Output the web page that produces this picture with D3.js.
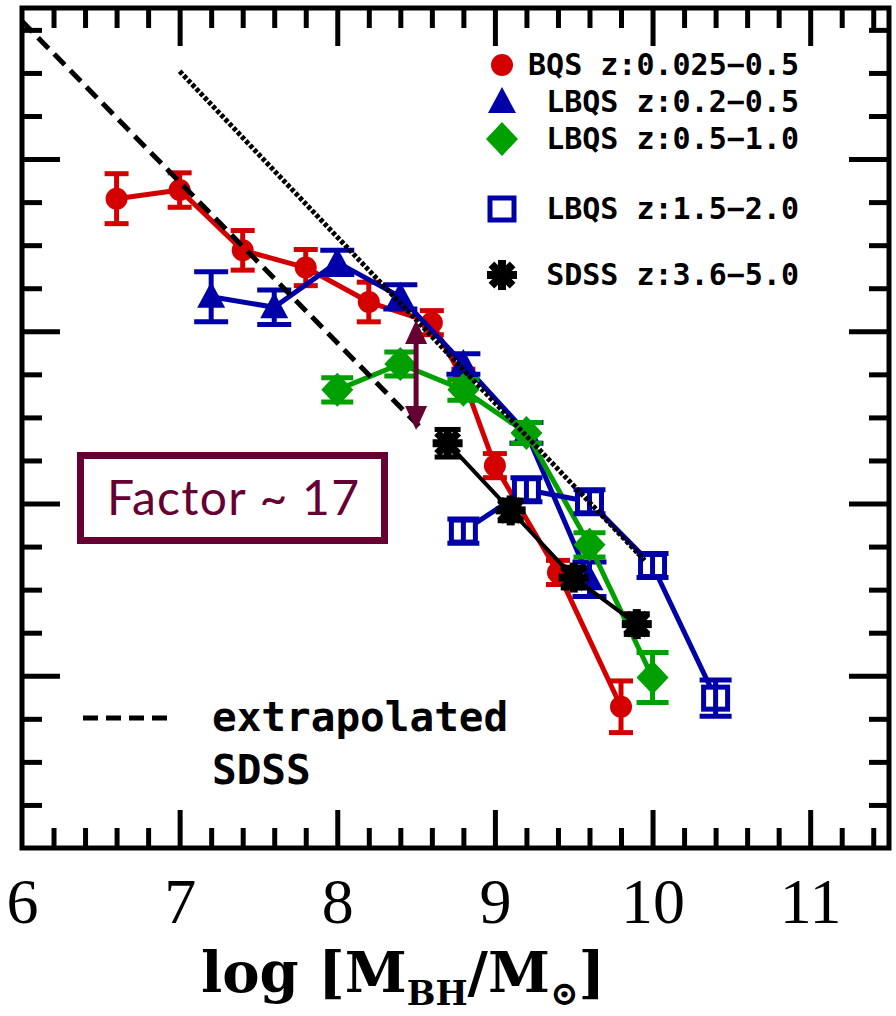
<!DOCTYPE html>
<html lang="en">
<head>
<meta charset="UTF-8">
<title>BH mass function</title>
<script src="https://cdn.jsdelivr.net/npm/d3@7"></script>
<style>
  body { margin: 0; background: #fff; }
  svg { display: block; }
</style>
</head>
<body>
<svg id="chart" width="896" height="1016"></svg>
<script>
// log M_BH (x) vs log number density (y), errors are +/- in dex
const bqsX = [6.6, 7.0, 7.4, 7.8, 8.2, 8.6, 8.8, 9.0, 9.4, 9.8]
const bqsY = [-6.23, -6.18, -6.53, -6.63, -6.83, -6.95, -7.28, -7.78, -8.40, -9.18]
const bqsErr = [0.145, 0.10, 0.115, 0.105, 0.115, 0.07, 0.06, 0.07, 0.07, 0.15]

const lbqsLowX = [7.2, 7.6, 8.0, 8.4, 8.8, 9.2, 9.6]
const lbqsLowY = [-6.80, -6.86, -6.60, -6.80, -7.19, -7.59, -8.44]
const lbqsLowErr = [0.145, 0.10, 0.07, 0.07, 0.06, 0.06, 0.10]

const lbqsMidX = [8.0, 8.4, 8.8, 9.2, 9.6, 10.0]
const lbqsMidY = [-7.34, -7.19, -7.34, -7.59, -8.24, -9.01]
const lbqsMidErr = [0.07, 0.07, 0.06, 0.06, 0.07, 0.145]

const lbqsHighX = [8.8, 9.2, 9.6, 10.0, 10.4]
const lbqsHighY = [-8.16, -7.92, -7.99, -8.36, -9.13]
const lbqsHighErr = [0.07, 0.07, 0.07, 0.07, 0.105]

const sdssX = [8.7, 9.1, 9.5, 9.9]
const sdssY = [-7.65, -8.04, -8.43, -8.70]
const sdssErr = [0.08, 0.06, 0.06, 0.06]

// reference lines
const extrapX = [6.0, 8.55]
const extrapY = [-5.20, -7.58]
const dottedX = [7.0, 9.95]
const dottedY = [-5.49, -8.33]

// "factor" arrow
const arrowX = 8.5
const arrowY = [-6.935, -7.573]

const xMajor = [7, 8, 9, 10, 11]
const xLabels = [6, 7, 8, 9, 10, 11]
const yMajor = [-9, -8, -7, -6]
const legendLabels = ['BQS z:0.025\u22120.5', 'LBQS z:0.2\u22120.5', 'LBQS z:0.5\u22121.0', 'LBQS z:1.5\u22122.0', 'SDSS z:3.6\u22125.0']

const red = '#d40000', blue = '#0000a8', green = '#00a000', maroon = '#660033'

const series = [
    { x: bqsX, y: bqsY, err: bqsErr, color: red, shape: 'circle', cap: 24, lw: 5 },
    { x: lbqsLowX, y: lbqsLowY, err: lbqsLowErr, color: blue, shape: 'triangle', cap: 34, lw: 5 },
    { x: lbqsMidX, y: lbqsMidY, err: lbqsMidErr, color: green, shape: 'diamond', cap: 32, lw: 5 },
    { x: lbqsHighX, y: lbqsHighY, err: lbqsHighErr, color: blue, shape: 'square', cap: 32, lw: 5 },
    { x: sdssX, y: sdssY, err: sdssErr, color: 'black', shape: 'star', cap: 26, lw: 4 }
]

const svg = d3.select('#chart')
const mLeft = 22, mRight = 889, mTop = 8, mBottom = 848

const x = d3.scaleLinear().domain([6, 11.5]).range([mLeft, mRight])
const y = d3.scaleLinear().domain([-10, -5.123]).range([mBottom, mTop])

const notInt = v => Math.abs(v - Math.round(v)) > 1e-6
const xMinor = d3.range(6.2, 11.5, 0.2).filter(notInt)
const yMinor = d3.range(-9.75, -5.1, 0.25).filter(notInt)

function tickAxis(axis, vals, size, tr) {
    svg.append('g')
        .attr('transform', tr)
        .call(axis.tickValues(vals).tickSize(size).tickFormat(''))
        .call(g => g.select('.domain').remove())
        .selectAll('line').attr('stroke', 'black').attr('stroke-width', 5)
}

tickAxis(d3.axisTop(x), xMajor, 38, `translate(0,${mBottom})`)
tickAxis(d3.axisTop(x), xMinor, 20, `translate(0,${mBottom})`)
tickAxis(d3.axisBottom(x), xMajor, 38, `translate(0,${mTop})`)
tickAxis(d3.axisBottom(x), xMinor, 20, `translate(0,${mTop})`)
tickAxis(d3.axisRight(y), yMajor, 38, `translate(${mLeft},0)`)
tickAxis(d3.axisRight(y), yMinor, 20, `translate(${mLeft},0)`)
tickAxis(d3.axisLeft(y), yMajor, 40, `translate(${mRight},0)`)
tickAxis(d3.axisLeft(y), yMinor, 20, `translate(${mRight},0)`)

// frame
svg.append('rect')
    .attr('x', mLeft).attr('y', mTop)
    .attr('width', mRight - mLeft).attr('height', mBottom - mTop)
    .attr('fill', 'none').attr('stroke', 'black').attr('stroke-width', 5)

// tick labels
svg.append('g')
    .attr('transform', `translate(0,${mBottom})`)
    .call(d3.axisBottom(x).tickValues(xLabels).tickSize(0).tickPadding(30).tickFormat(d3.format('d')))
    .call(g => g.select('.domain').remove())
    .selectAll('text')
    .attr('font-family', '"Liberation Serif", serif')
    .attr('font-size', 64)
    .attr('fill', 'black')

// x title
const title = svg.append('text')
    .attr('x', 403).attr('y', 992)
    .attr('text-anchor', 'middle')
    .attr('font-family', '"DejaVu Serif", serif')
    .attr('font-weight', 'bold')
    .attr('font-size', 56)
title.append('tspan').text('log [M')
title.append('tspan').attr('font-size', 34).attr('dy', 13).text('BH')
title.append('tspan').attr('dy', -13).text('/M')
title.append('tspan').attr('font-size', 34).attr('dy', 13).text('\u2299')
title.append('tspan').attr('dy', -13).text(']')

function drawMarker(g, s, cx, cy) {
    if (s.shape === 'circle') {
        g.append('circle').attr('cx', cx).attr('cy', cy).attr('r', 11).attr('fill', s.color)
    } else if (s.shape === 'triangle') {
        g.append('path').attr('d', `M${cx},${cy - 15}L${cx + 14},${cy + 11}L${cx - 14},${cy + 11}Z`).attr('fill', s.color)
    } else if (s.shape === 'diamond') {
        g.append('path').attr('d', `M${cx},${cy - 17}L${cx + 16},${cy}L${cx},${cy + 17}L${cx - 16},${cy}Z`).attr('fill', s.color)
    } else if (s.shape === 'square') {
        g.append('rect').attr('x', cx - 12).attr('y', cy - 11).attr('width', 24).attr('height', 22)
            .attr('fill', 'white').attr('stroke', s.color).attr('stroke-width', 5)
    } else {
        const r = 15
        d3.range(4).forEach(k => {
            const a = k * Math.PI / 4
            g.append('line')
                .attr('x1', cx - r * Math.cos(a)).attr('y1', cy - r * Math.sin(a))
                .attr('x2', cx + r * Math.cos(a)).attr('y2', cy + r * Math.sin(a))
                .attr('stroke', s.color).attr('stroke-width', 8)
        })
        g.append('circle').attr('cx', cx).attr('cy', cy).attr('r', 9).attr('fill', s.color)
    }
}

const line = d3.line().x(d => x(d[0])).y(d => y(d[1]))

series.forEach(s => {
    const pts = s.x.map((v, i) => [v, s.y[i], s.err[i]])
    const g = svg.append('g')
    g.append('path')
        .attr('d', line(pts))
        .attr('fill', 'none').attr('stroke', s.color).attr('stroke-width', s.lw)
        .attr('stroke-linejoin', 'round')
    pts.forEach(p => {
        const cx = x(p[0]), cy = y(p[1])
        drawMarker(g, s, cx, cy)
        const y1 = y(p[1] + p[2]), y2 = y(p[1] - p[2])
        g.append('line').attr('x1', cx).attr('x2', cx).attr('y1', y1).attr('y2', y2)
            .attr('stroke', s.color).attr('stroke-width', 5)
        ;[y1, y2].forEach(yy => {
            g.append('line').attr('x1', cx - s.cap / 2).attr('x2', cx + s.cap / 2)
                .attr('y1', yy).attr('y2', yy)
                .attr('stroke', s.color).attr('stroke-width', 5)
        })
    })
})

// extrapolated SDSS (dashed) and dotted line
svg.append('path')
    .attr('d', line(extrapX.map((v, i) => [v, extrapY[i]])))
    .attr('fill', 'none').attr('stroke', 'black').attr('stroke-width', 5)
    .attr('stroke-dasharray', '15,8')
svg.append('path')
    .attr('d', line(dottedX.map((v, i) => [v, dottedY[i]])))
    .attr('fill', 'none').attr('stroke', 'black').attr('stroke-width', 5)
    .attr('stroke-dasharray', '4,2')

// arrow
const ax = x(arrowX), ay1 = y(arrowY[0]), ay2 = y(arrowY[1])
svg.append('line').attr('x1', ax).attr('x2', ax).attr('y1', ay1 + 15).attr('y2', ay2 - 15)
    .attr('stroke', maroon).attr('stroke-width', 5)
svg.append('path').attr('d', `M${ax},${ay1}L${ax + 11},${ay1 + 24}L${ax - 11},${ay1 + 24}Z`).attr('fill', maroon)
svg.append('path').attr('d', `M${ax},${ay2}L${ax + 11},${ay2 - 24}L${ax - 11},${ay2 - 24}Z`).attr('fill', maroon)

// factor box
svg.append('rect')
    .attr('x', 80.5).attr('y', 455.5).attr('width', 304).attr('height', 85)
    .attr('fill', 'white').attr('stroke', maroon).attr('stroke-width', 7)
svg.append('text')
    .attr('x', 233).attr('y', 515)
    .attr('text-anchor', 'middle')
    .attr('font-family', '"Comic Sans MS", Lato, sans-serif')
    .attr('font-size', 48)
    .attr('textLength', 252)
    .attr('fill', maroon)
    .text('Factor ~ 17')

// legend
const legendY = [65, 102, 139, 209, 275]
const legend = svg.append('g')
series.forEach((s, i) => {
    drawMarker(legend, s, 502, legendY[i])
    legend.append('text')
        .attr('x', 799).attr('y', legendY[i] + 10)
        .attr('text-anchor', 'end')
        .attr('font-family', '"DejaVu Sans Mono", monospace')
        .attr('font-weight', 'bold')
        .attr('font-size', 30)
        .text(legendLabels[i])
})

svg.append('line').attr('x1', 83).attr('x2', 172).attr('y1', 718).attr('y2', 718)
    .attr('stroke', 'black').attr('stroke-width', 5).attr('stroke-dasharray', '15,8')
const ext = svg.append('text')
    .attr('font-family', '"DejaVu Sans Mono", monospace')
    .attr('font-weight', 'bold')
    .attr('font-size', 41)
ext.append('tspan').attr('x', 212).attr('y', 731).text('extrapolated')
ext.append('tspan').attr('x', 212).attr('y', 784).text('SDSS')
</script>
</body>
</html>
